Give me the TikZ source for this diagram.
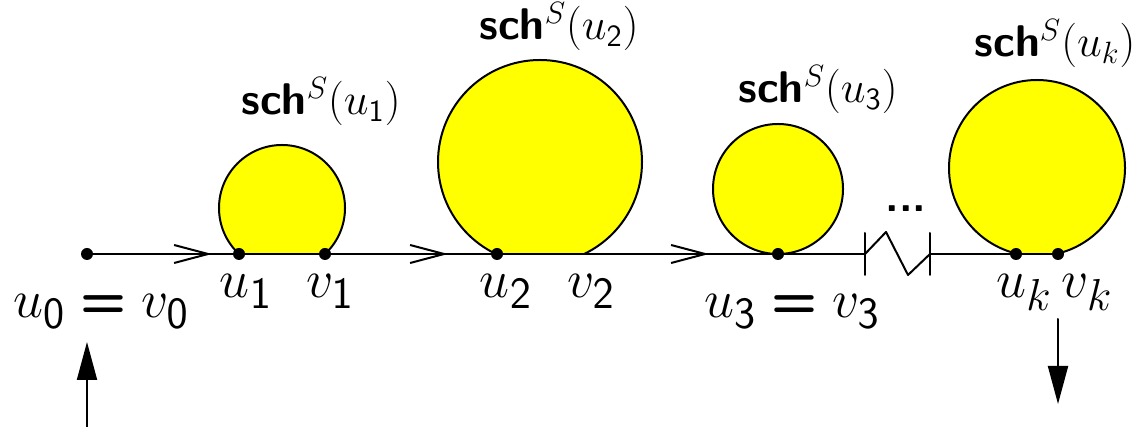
\documentclass[tikz,border=0pt]{standalone}
\usetikzlibrary{arrows.meta}
\definecolor{schyellow}{RGB}{255,255,0}
\newcommand{\beq}{\mathrel{\textsf{\textbf{=}}}}
\begin{document}
\begin{tikzpicture}[
  x=0.5pt, y=0.5pt,
  line join=round, line cap=round,
  edge/.style={line width=1pt},
  blob/.style={line width=1pt, fill=schyellow},
  barb/.style={-{Straight Barb[length=17pt,width=9pt]}},
  bigtip/.style={-{Triangle[length=19pt,width=10pt]}},
  sch/.style={anchor=base, inner sep=0pt, scale=1.07, transform shape,
              font=\fontsize{20.74}{24}\selectfont},
  pt/.style={anchor=base, scale=1.08, transform shape,
             font=\fontsize{24.88}{30}\selectfont},
]
\useasboundingbox (0,0) rectangle (1133,427);

% points on the path
\foreach \n/\x in {v0/87, a1/212, u1/239, v1/325, a2/448, u2/497, v2/584,
                   a3/709, u3/778, zl/865, zr/930, uk/1016, vk/1058}
  \coordinate (\n) at (\x,173);

% the schemes, cut off by the path
\begin{scope}
  \clip (0,173) rectangle (1133,427);
  \foreach \cx/\cy/\r in {282/219/63, 540/265/102, 778/238/65, 1037/259/88}
    \draw[blob] (\cx,\cy) circle (\r);
\end{scope}

% the path, with its gap
\draw[edge] (v0) -- (zl);
\draw[edge] (zr) -- (vk);
\foreach \t in {a1,a2,a3}
  \draw[edge, barb] ([xshift=-10pt]\t) -- (\t);
\foreach \z in {zl,zr}
  \draw[edge] ([yshift=10.5pt]\z) -- ([yshift=-10.5pt]\z);
\draw[edge] (zl) -- ++(21,22) -- ++(22,-43) -- (zr);
\node[sch] (gap) at (906,215) {\textsf{\textbf{...}}};

\foreach \n in {v0,u1,v1,u2,u3,uk,vk}
  \fill (\n) circle (3pt);

% the labels
\node[sch] (sch1) at (321,312) {\textbf{\sffamily sch}$^S(u_{\mathsf{1}})$};
\node[sch] (sch2) at (559,387) {\textbf{\sffamily sch}$^S(u_{\mathsf{2}})$};
\node[sch] (sch3) at (818,324) {\textbf{\sffamily sch}$^S(u_{\mathsf{3}})$};
\node[sch] (schk) at (1055,370) {\textbf{\sffamily sch}$^S(u_k)$};

\node[pt] (lab0) at (101,109) {$u_{\mathsf{0}} \beq v_{\mathsf{0}}$};
\node[pt] (labu1) at (246,129) {$u_{\mathsf{1}}$};
\node[pt] (labv1) at (330,129) {$v_{\mathsf{1}}$};
\node[pt] (labu2) at (506,129) {$u_{\mathsf{2}}$};
\node[pt] (labv2) at (591,129) {$v_{\mathsf{2}}$};
\node[pt] (lab3) at (792,109) {$u_{\mathsf{3}} \beq v_{\mathsf{3}}$};
\node[pt] (labuk) at (1024,129) {$u_k$};
\node[pt] (labvk) at (1087,129) {$v_k$};

% in and out
\coordinate (in) at (87,0);
\coordinate (inTip) at (87,85);
\coordinate (out) at (1058,108);
\coordinate (outTip) at (1058,23);
\draw[edge, bigtip] (in) -- (inTip);
\draw[edge, bigtip] (out) -- (outTip);

\end{tikzpicture}
\end{document}
